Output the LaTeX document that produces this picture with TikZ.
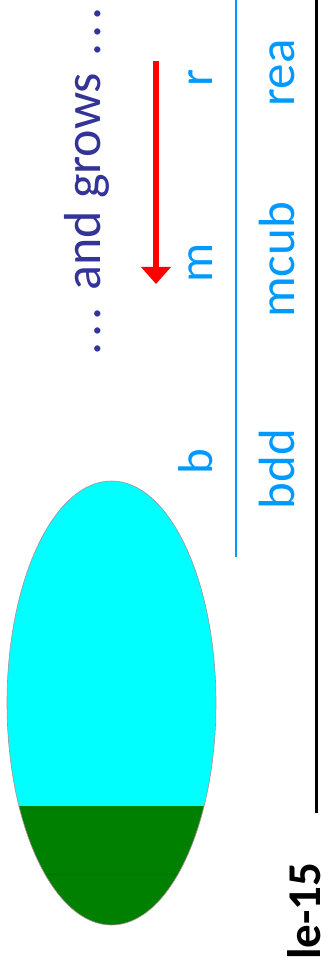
\documentclass[tikz,border=0pt]{standalone}
\usepackage{fontspec}
\setmainfont{Carlito}
\usetikzlibrary{arrows.meta}
\definecolor{navytxt}{HTML}{333399}
\definecolor{skyblue}{HTML}{0099FF}
\definecolor{aqua}{HTML}{00FFFF}
\definecolor{leafgreen}{HTML}{008000}
\definecolor{rimcol}{HTML}{A89098}
\begin{document}
\begin{tikzpicture}[x=1pt,y=-1pt,
  vlabel/.style={rotate=90,anchor=base,inner sep=0pt},
  smallblue/.style={vlabel,text=skyblue,font=\fontsize{49}{58}\selectfont},
  bigblue/.style={vlabel,text=skyblue,font=\fontsize{51}{60}\selectfont},
  redarrow/.style={red,line width=6pt,-{Triangle[width=29pt,length=17pt]}}]
\useasboundingbox (0,0) rectangle (328,973);
% ellipse
\begin{scope}
  \clip (111.5,703) ellipse [x radius=104.5,y radius=222];
  \fill[aqua] (0,470) rectangle (230,806);
  \fill[leafgreen] (0,806) rectangle (230,930);
  \draw[green!45!black,line width=0.5pt] (0,874) -- (230,874);
\end{scope}
\draw[rimcol,line width=0.6pt] (111.5,703) ellipse [x radius=104.5,y radius=222];
% lines
\coordinate (blueTop) at (236,0);
\coordinate (blueBot) at (236,557);
\draw[skyblue,line width=2.5pt] (blueTop) -- (blueBot);
\coordinate (blackTop) at (316,0);
\coordinate (blackBot) at (316,813);
\draw[black,line width=3pt] (blackTop) -- (blackBot);
% arrow
\coordinate (arrS) at (156,61);
\coordinate (arrE) at (156,284);
\draw[redarrow] (arrS) -- (arrE);
% texts
\node[vlabel,text=navytxt,font=\fontsize{52}{60}\selectfont] (grows) at (100,181.5)
  {.\kern4.6pt.\kern4.6pt.\kern5pt\ and grows\ \kern5pt.\kern4.6pt.\kern4.6pt.};
\node[smallblue] (lb) at (212,461.5) {b};
\node[smallblue] (lm) at (212,263) {m};
\node[smallblue] (lr) at (212,77.5) {r};
\node[bigblue] (bdd) at (294,469) {bdd};
\node[bigblue] (mcub) at (294,260) {mcub};
\node[bigblue] (rea) at (294,73) {rea};
\node[vlabel,text=black,font=\fontsize{47}{56}\selectfont\bfseries] (lec) at (320,911) {le-15};
\end{tikzpicture}
\end{document}
